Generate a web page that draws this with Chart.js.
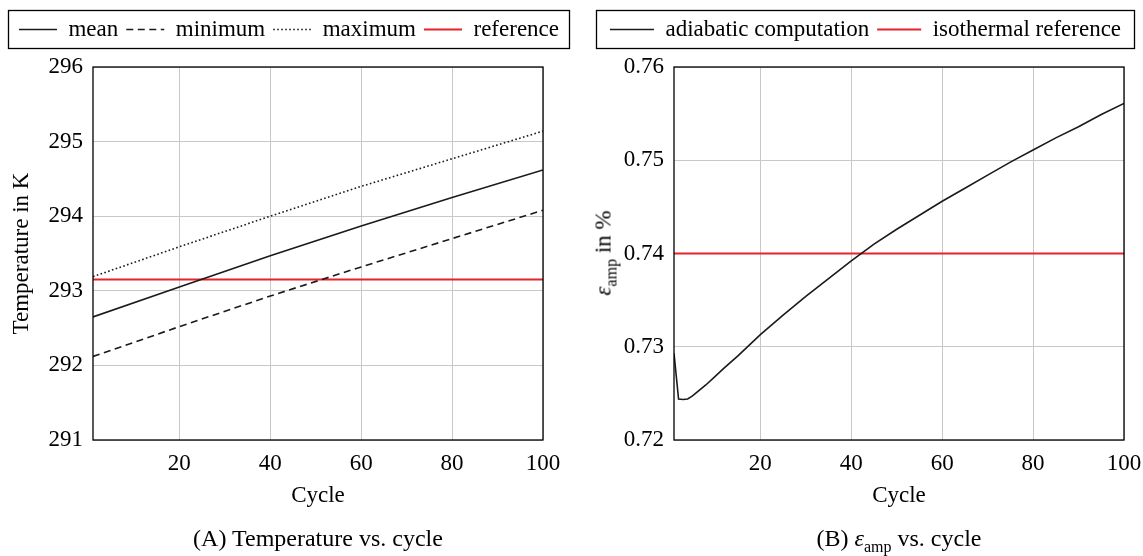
<!DOCTYPE html>
<html><head><meta charset="utf-8">
<script src="https://cdn.jsdelivr.net/npm/chart.js@4.4.1/dist/chart.umd.min.js"></script>
<style>
html,body{margin:0;padding:0;background:#fff;}
body{width:1143px;height:556px;position:relative;overflow:hidden;font-family:'Liberation Serif','Times New Roman',serif;color:#000;}
canvas{position:absolute;top:0;}
#cA{left:0;} #cB{left:580px;}
.cap{position:absolute;font-size:24px;line-height:28px;white-space:nowrap;transform:translateX(-50%);top:524px;}
.ytitle{position:absolute;font-size:23px;line-height:27px;white-space:nowrap;transform:translate(-50%,-50%) rotate(-90deg);}
.sb{font-size:16px;position:relative;top:0.35em;}
</style></head><body>
<canvas id="cA" width="580" height="556"></canvas>
<canvas id="cB" width="563" height="556"></canvas>
<div class="ytitle" style="left:604px;top:253px;"><i>ε</i><span class="sb">amp</span> in %</div>
<div class="cap" style="left:318px;">(A) Temperature vs. cycle</div>
<div class="cap" style="left:899px;">(B) <i>ε</i><span class="sb">amp</span> vs. cycle</div>
<script>
// ---- data ----
const cycleTicks = [20, 40, 60, 80, 100];
const tempTicks = [291, 292, 293, 294, 295, 296];
const tempTickLabels = ['291', '292', '293', '294', '295', '296'];
const tempCycles = [1, 20, 40, 60, 80, 100];
const tempMean = [292.65, 293.05, 293.47, 293.87, 294.25, 294.62];
const tempMin = [292.12, 292.52, 292.93, 293.32, 293.70, 294.08];
const tempMax = [293.19, 293.59, 294.00, 294.40, 294.77, 295.14];
const refCycles = [1, 100];
const tempReference = [293.15, 293.15];

const epsTicks = [0.72, 0.73, 0.74, 0.75, 0.76];
const epsTickLabels = ['0.72', '0.73', '0.74', '0.75', '0.76'];
const epsCycles = [1, 2, 3, 4, 5, 6, 8, 10, 12, 15, 20, 25, 30, 35, 40, 45, 50, 55, 60, 65, 70, 75, 80, 85, 90, 95, 100];
const epsAdiabatic = [0.7293, 0.7244, 0.72435, 0.7244, 0.7247, 0.7251, 0.7259, 0.7268, 0.7277, 0.7290, 0.7313, 0.7334, 0.7354, 0.7373, 0.7392, 0.7410, 0.7426, 0.7441, 0.7456, 0.7470, 0.7484, 0.7498, 0.7511, 0.7524, 0.7536, 0.7549, 0.7561];
const epsIsothermal = [0.74, 0.74];

const legendA = ['mean', 'minimum', 'maximum', 'reference'];
const legendB = ['adiabatic computation', 'isothermal reference'];
const xTitle = 'Cycle';
const yTitleA = 'Temperature in K';

// ---- helpers ----
function pts(xs, ys) { return xs.map((x, i) => ({x: x, y: ys[i]})); }

Chart.defaults.font.family = "'Liberation Serif', 'Times New Roman', serif";
Chart.defaults.font.size = 23;
Chart.defaults.color = '#000';

const BLACK = '#1a1a1a';
const RED = '#e6232a';
const GRID = '#c8c8c8';

const framePlugin = {
  id: 'frames',
  beforeUpdate(chart, args, opts) {
    const lg = chart.legend;
    if (lg && !lg.__patched) {
      const orig = lg.fit;
      lg.fit = function () { orig.call(this); this.height += (opts.legendGap || 0); };
      lg.__patched = true;
    }
  },
  afterDraw(chart, args, opts) {
    const ctx = chart.ctx, a = chart.chartArea, lg = chart.legend;
    ctx.save();
    ctx.strokeStyle = '#000';
    ctx.lineWidth = 1.3;
    ctx.setLineDash([]);
    ctx.strokeRect(a.left, a.top, a.right - a.left, a.bottom - a.top);
    if (lg) ctx.strokeRect(lg.left + 0.5, lg.top + 0.5, lg.width - 1, opts.legendBoxHeight);
    ctx.restore();
  }
};

function lineDs(label, data, color, width, dash) {
  return {label: label, data: data, borderColor: color, backgroundColor: color, borderWidth: width,
    borderDash: dash, borderCapStyle: 'butt', pointRadius: 0, pointHoverRadius: 0, fill: false, tension: 0};
}

function legendItems(chart) {
  return chart.data.datasets.map((ds, i) => ({
    text: ds.label, datasetIndex: i, hidden: false,
    fillStyle: ds.borderColor, strokeStyle: ds.borderColor, fontColor: '#000',
    lineWidth: ds.borderWidth, lineDash: ds.borderDash, lineDashOffset: 0,
    lineCap: 'butt', lineJoin: 'miter', pointStyle: 'line', rotation: 0
  }));
}

function makeOptions(cfg) {
  return {
    responsive: false, animation: false, devicePixelRatio: 1,
    layout: {padding: cfg.padding},
    plugins: {
      tooltip: {enabled: false},
      legend: {
        position: 'top', align: 'center',
        labels: {usePointStyle: true, pointStyle: 'line', pointStyleWidth: cfg.boxW, padding: 8,
          color: '#000', font: {size: 23}, generateLabels: legendItems}
      },
      frames: {legendGap: 16, legendBoxHeight: 38}
    },
    scales: {
      x: {
        type: 'linear', min: 1, max: 100,
        afterBuildTicks: s => { s.ticks = cycleTicks.map(v => ({value: v})); },
        afterFit: s => { s.height = 116; s.paddingLeft = 0; s.paddingRight = cfg.rightGap; },
        ticks: {padding: 10, color: '#000', maxRotation: 0, autoSkip: false, font: {size: 23}},
        grid: {color: GRID, lineWidth: 1, drawTicks: false},
        border: {display: false},
        title: {display: true, text: xTitle, color: '#000', font: {size: 23}, padding: {top: 0, bottom: 46}}
      },
      y: {
        type: 'linear', min: cfg.yTicks[0], max: cfg.yTicks[cfg.yTicks.length - 1],
        afterBuildTicks: s => { s.ticks = cfg.yTicks.map(v => ({value: v})); },
        afterFit: s => { s.width = cfg.yWidth; },
        ticks: {padding: 10, color: '#000', autoSkip: false, font: {size: 23}, callback: (v, i) => cfg.yLabels[i]},
        grid: {color: GRID, lineWidth: 1, drawTicks: false},
        border: {display: false},
        title: {display: !!cfg.yTitle, text: cfg.yTitle || '', color: '#000', font: {size: 23}, padding: {top: 0, bottom: 0}}
      }
    }
  };
}

new Chart(document.getElementById('cA'), {
  type: 'line',
  data: {datasets: [
    lineDs(legendA[0], pts(tempCycles, tempMean), BLACK, 1.6, []),
    lineDs(legendA[1], pts(tempCycles, tempMin), BLACK, 1.6, [7, 4.5]),
    lineDs(legendA[2], pts(tempCycles, tempMax), BLACK, 1.6, [1.6, 2.4]),
    lineDs(legendA[3], pts(refCycles, tempReference), RED, 2, [])
  ]},
  options: makeOptions({padding: {left: 8, right: 10, top: 10, bottom: 0}, boxW: 38, rightGap: 37,
    yTicks: tempTicks, yLabels: tempTickLabels, yWidth: 85, yTitle: yTitleA}),
  plugins: [framePlugin]
});

new Chart(document.getElementById('cB'), {
  type: 'line',
  data: {datasets: [
    lineDs(legendB[0], pts(epsCycles, epsAdiabatic), BLACK, 1.6, []),
    lineDs(legendB[1], pts(refCycles, epsIsothermal), RED, 2, [])
  ]},
  options: makeOptions({padding: {left: 16, right: 8, top: 10, bottom: 0}, boxW: 44, rightGap: 19,
    yTicks: epsTicks, yLabels: epsTickLabels, yWidth: 78, yTitle: null}),
  plugins: [framePlugin]
});
</script>
</body></html>
